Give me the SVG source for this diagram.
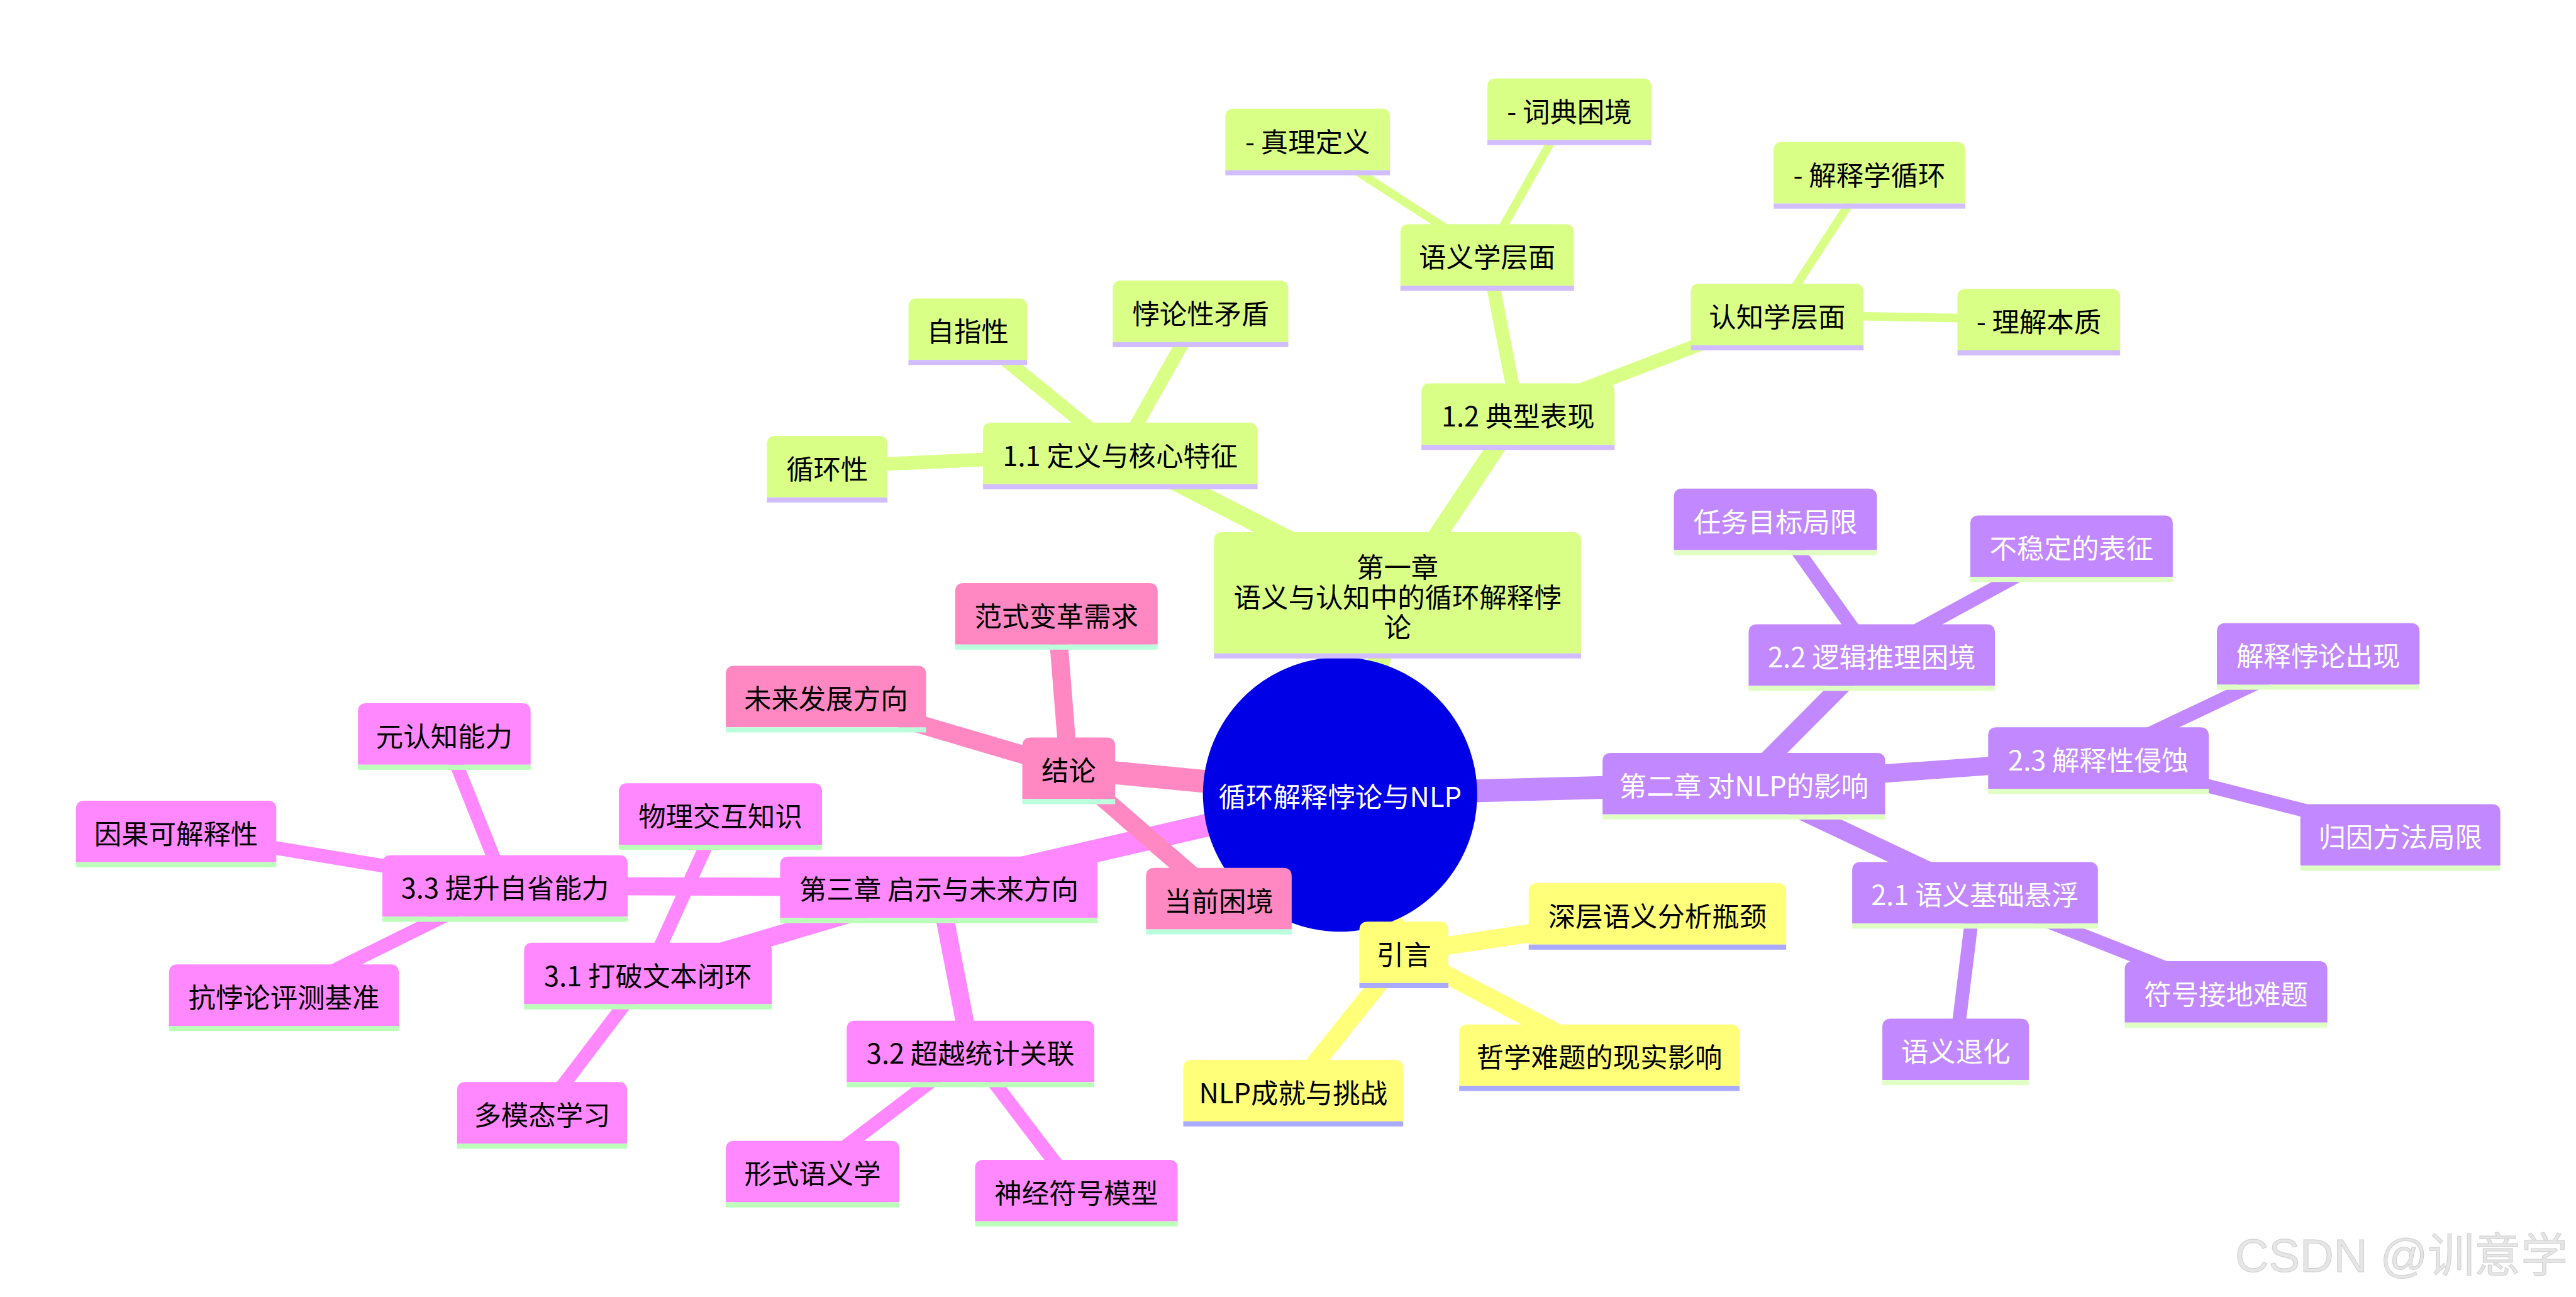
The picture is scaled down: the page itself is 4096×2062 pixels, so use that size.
<svg xmlns="http://www.w3.org/2000/svg" width="4096" height="2062" viewBox="0 0 4096 2062">
<style>
.t{font-family:"Noto Sans CJK SC","Noto Sans",sans-serif;font-size:48px;text-anchor:middle;fill:#000}
.rt{font-family:"Noto Sans CJK SC","Noto Sans",sans-serif;font-size:48px;text-anchor:middle;fill:#fff}
.e{fill:none;stroke-linecap:butt}
.d0{stroke-width:40}.d1{stroke-width:32}.d2{stroke-width:24}.d3{stroke-width:15}
.c1{stroke:#d9ff87}.c2{stroke:#c288ff}.c3{stroke:#ffff7a}.c4{stroke:#ff88c3}.c5{stroke:#ff88ff}
.s1 .bg{fill:#d9ff87}.s1 .ul{fill:#d1bdff}
.s2 .bg{fill:#c288ff}.s2 .ul{fill:#dfffc4}.s2 .t{fill:#fff}
.s3 .bg{fill:#ffff7a}.s3 .ul{fill:#aaaaff}
.s4 .bg{fill:#ff88c3}.s4 .ul{fill:#bbffdd}
.s5 .bg{fill:#ff88ff}.s5 .ul{fill:#bbffbb}
.wm{font-family:"Liberation Sans","Noto Sans CJK SC",sans-serif;font-size:82px;fill:#e6e6e6;stroke:#d0d0d0;stroke-width:1.2}
</style>
<rect width="4096" height="2062" fill="#fff"/>
<g transform="scale(0.904792)">
<g id="connectors">
<line class="e d0 c1" x1="2355" y1="1396" x2="2456" y2="1046"/>
<line class="e d0 c2" x1="2355" y1="1396" x2="3064.7" y2="1377"/>
<line class="e d0 c3" x1="2355" y1="1396" x2="2467.2" y2="1673.3"/>
<line class="e d0 c4" x1="2355" y1="1396" x2="1878.2" y2="1350"/>
<line class="e d0 c5" x1="2355" y1="1396" x2="1650" y2="1559"/>
<line class="e d1 c1" x1="2456" y1="1046" x2="1968.8" y2="796.7"/>
<line class="e d1 c1" x1="2456" y1="1046" x2="2667.8" y2="727.7"/>
<line class="e d1 c2" x1="3064.7" y1="1377" x2="3289.4" y2="1151"/>
<line class="e d1 c2" x1="3064.7" y1="1377" x2="3687.8" y2="1332"/>
<line class="e d1 c2" x1="3064.7" y1="1377" x2="3470.9" y2="1568.7"/>
<line class="e d1 c3" x1="2467.2" y1="1673.3" x2="2912.8" y2="1605.7"/>
<line class="e d1 c3" x1="2467.2" y1="1673.3" x2="2810.7" y2="1854"/>
<line class="e d1 c3" x1="2467.2" y1="1673.3" x2="2272.8" y2="1916.3"/>
<line class="e d1 c4" x1="1878.2" y1="1350" x2="1856.5" y2="1078.5"/>
<line class="e d1 c4" x1="1878.2" y1="1350" x2="1451.5" y2="1224"/>
<line class="e d1 c4" x1="1878.2" y1="1350" x2="2142" y2="1579"/>
<line class="e d1 c5" x1="1650" y1="1559" x2="887.5" y2="1556.7"/>
<line class="e d1 c5" x1="1650" y1="1559" x2="1138.8" y2="1710.5"/>
<line class="e d1 c5" x1="1650" y1="1559" x2="1705.5" y2="1847.4"/>
<line class="e d2 c1" x1="1968.8" y1="796.7" x2="1453.7" y2="820"/>
<line class="e d2 c1" x1="1968.8" y1="796.7" x2="1700.9" y2="578.3"/>
<line class="e d2 c1" x1="1968.8" y1="796.7" x2="2109.8" y2="547"/>
<line class="e d2 c1" x1="2667.8" y1="727.7" x2="2613.5" y2="448"/>
<line class="e d2 c1" x1="2667.8" y1="727.7" x2="3123.2" y2="552.7"/>
<line class="e d2 c2" x1="3289.4" y1="1151" x2="3120" y2="912.6"/>
<line class="e d2 c2" x1="3289.4" y1="1151" x2="3640.5" y2="959.6"/>
<line class="e d2 c2" x1="3687.8" y1="1332" x2="4074" y2="1149"/>
<line class="e d2 c2" x1="3687.8" y1="1332" x2="4218.3" y2="1467"/>
<line class="e d2 c2" x1="3470.9" y1="1568.7" x2="3912" y2="1742.8"/>
<line class="e d2 c2" x1="3470.9" y1="1568.7" x2="3436.9" y2="1843.8"/>
<line class="e d2 c5" x1="887.5" y1="1556.7" x2="780.8" y2="1289.7"/>
<line class="e d2 c5" x1="887.5" y1="1556.7" x2="309.5" y2="1461"/>
<line class="e d2 c5" x1="887.5" y1="1556.7" x2="499" y2="1748.7"/>
<line class="e d2 c5" x1="1138.8" y1="1710.5" x2="1266.1" y2="1430.4"/>
<line class="e d2 c5" x1="1138.8" y1="1710.5" x2="952.7" y2="1955.3"/>
<line class="e d2 c5" x1="1705.5" y1="1847.4" x2="1428" y2="2058.6"/>
<line class="e d2 c5" x1="1705.5" y1="1847.4" x2="1891.6" y2="2092"/>
<line class="e d3 c1" x1="2613.5" y1="448" x2="2298" y2="245"/>
<line class="e d3 c1" x1="2613.5" y1="448" x2="2758" y2="192"/>
<line class="e d3 c1" x1="3123.2" y1="552.7" x2="3285.3" y2="303.6"/>
<line class="e d3 c1" x1="3123.2" y1="552.7" x2="3583" y2="561.6"/>
</g>

<g id="root"><circle cx="2355" cy="1396" r="241" fill="#0000e6"/><text class="rt" x="2355" y="1418">循环解释悖论与NLP</text></g>

<g id="ch1" class="s1" transform="translate(2133.5,935)"><path class="bg" d="M0,213V15Q0,0 15,0H630Q645,0 645,15V213Z"/><rect class="ul" y="213" width="645" height="9"/><text class="t" x="322.5" y="80">第一章<tspan x="322.5" dy="53">语义与认知中的循环解释悖</tspan><tspan x="322.5" dy="52">论</tspan></text></g>
<g id="n11" class="s1" transform="translate(1727.5,742.7)"><path class="bg" d="M0,108V15Q0,0 15,0H467.5Q482.5,0 482.5,15V108Z"/><rect class="ul" y="108" width="482.5" height="9"/><text class="t" x="241.25" y="76">1.1 定义与核心特征</text></g>
<g id="xunhuan" class="s1" transform="translate(1347.8,766)"><path class="bg" d="M0,108V15Q0,0 15,0H196.8Q211.8,0 211.8,15V108Z"/><rect class="ul" y="108" width="211.8" height="9"/><text class="t" x="105.9" y="76">循环性</text></g>
<g id="zizhi" class="s1" transform="translate(1596.6,524.3)"><path class="bg" d="M0,108V15Q0,0 15,0H193.5Q208.5,0 208.5,15V108Z"/><rect class="ul" y="108" width="208.5" height="9"/><text class="t" x="104.25" y="76">自指性</text></g>
<g id="beilun" class="s1" transform="translate(1955.6,493)"><path class="bg" d="M0,108V15Q0,0 15,0H293.4Q308.4,0 308.4,15V108Z"/><rect class="ul" y="108" width="308.4" height="9"/><text class="t" x="154.2" y="76">悖论性矛盾</text></g>
<g id="n12" class="s1" transform="translate(2498,673.7)"><path class="bg" d="M0,108V15Q0,0 15,0H324.5Q339.5,0 339.5,15V108Z"/><rect class="ul" y="108" width="339.5" height="9"/><text class="t" x="169.75" y="76">1.2 典型表现</text></g>
<g id="yuyi" class="s1" transform="translate(2461,394)"><path class="bg" d="M0,108V15Q0,0 15,0H290Q305,0 305,15V108Z"/><rect class="ul" y="108" width="305" height="9"/><text class="t" x="152.5" y="76">语义学层面</text></g>
<g id="zhenli" class="s1" transform="translate(2153.4,191)"><path class="bg" d="M0,108V15Q0,0 15,0H274.3Q289.3,0 289.3,15V108Z"/><rect class="ul" y="108" width="289.3" height="9"/><text class="t" x="144.65" y="76">- 真理定义</text></g>
<g id="cidian" class="s1" transform="translate(2614,138)"><path class="bg" d="M0,108V15Q0,0 15,0H273Q288,0 288,15V108Z"/><rect class="ul" y="108" width="288" height="9"/><text class="t" x="144" y="76">- 词典困境</text></g>
<g id="renzhi" class="s1" transform="translate(2971.4,498.7)"><path class="bg" d="M0,108V15Q0,0 15,0H288.6Q303.6,0 303.6,15V108Z"/><rect class="ul" y="108" width="303.6" height="9"/><text class="t" x="151.8" y="76">认知学层面</text></g>
<g id="jieshixue" class="s1" transform="translate(3117,249.6)"><path class="bg" d="M0,108V15Q0,0 15,0H321.6Q336.6,0 336.6,15V108Z"/><rect class="ul" y="108" width="336.6" height="9"/><text class="t" x="168.3" y="76">- 解释学循环</text></g>
<g id="lijie" class="s1" transform="translate(3440,507.6)"><path class="bg" d="M0,108V15Q0,0 15,0H271Q286,0 286,15V108Z"/><rect class="ul" y="108" width="286" height="9"/><text class="t" x="143" y="76">- 理解本质</text></g>

<g id="ch2" class="s2" transform="translate(2816.3,1323)"><path class="bg" d="M0,108V15Q0,0 15,0H481.7Q496.7,0 496.7,15V108Z"/><rect class="ul" y="108" width="496.7" height="9"/><text class="t" x="248.35" y="76">第二章 对NLP的影响</text></g>
<g id="n22" class="s2" transform="translate(3073,1097)"><path class="bg" d="M0,108V15Q0,0 15,0H417.8Q432.8,0 432.8,15V108Z"/><rect class="ul" y="108" width="432.8" height="9"/><text class="t" x="216.4" y="76">2.2 逻辑推理困境</text></g>
<g id="renwu" class="s2" transform="translate(2941.6,858.6)"><path class="bg" d="M0,108V15Q0,0 15,0H341.8Q356.8,0 356.8,15V108Z"/><rect class="ul" y="108" width="356.8" height="9"/><text class="t" x="178.4" y="76">任务目标局限</text></g>
<g id="buwending" class="s2" transform="translate(3462.6,905.6)"><path class="bg" d="M0,108V15Q0,0 15,0H340.8Q355.8,0 355.8,15V108Z"/><rect class="ul" y="108" width="355.8" height="9"/><text class="t" x="177.9" y="76">不稳定的表征</text></g>
<g id="n23" class="s2" transform="translate(3494,1278)"><path class="bg" d="M0,108V15Q0,0 15,0H372.6Q387.6,0 387.6,15V108Z"/><rect class="ul" y="108" width="387.6" height="9"/><text class="t" x="193.8" y="76">2.3 解释性侵蚀</text></g>
<g id="jieshibeilun" class="s2" transform="translate(3896,1095)"><path class="bg" d="M0,108V15Q0,0 15,0H341Q356,0 356,15V108Z"/><rect class="ul" y="108" width="356" height="9"/><text class="t" x="178" y="76">解释悖论出现</text></g>
<g id="guiyin" class="s2" transform="translate(4042.6,1413)"><path class="bg" d="M0,108V15Q0,0 15,0H336.4Q351.4,0 351.4,15V108Z"/><rect class="ul" y="108" width="351.4" height="9"/><text class="t" x="175.7" y="76">归因方法局限</text></g>
<g id="n21" class="s2" transform="translate(3255,1514.7)"><path class="bg" d="M0,108V15Q0,0 15,0H416.8Q431.8,0 431.8,15V108Z"/><rect class="ul" y="108" width="431.8" height="9"/><text class="t" x="215.9" y="76">2.1 语义基础悬浮</text></g>
<g id="fuhao" class="s2" transform="translate(3734,1688.8)"><path class="bg" d="M0,108V15Q0,0 15,0H341Q356,0 356,15V108Z"/><rect class="ul" y="108" width="356" height="9"/><text class="t" x="178" y="76">符号接地难题</text></g>
<g id="tuihua" class="s2" transform="translate(3308,1789.8)"><path class="bg" d="M0,108V15Q0,0 15,0H242.8Q257.8,0 257.8,15V108Z"/><rect class="ul" y="108" width="257.8" height="9"/><text class="t" x="128.9" y="76">语义退化</text></g>

<g id="yinyan" class="s3" transform="translate(2389,1619.3)"><path class="bg" d="M0,108V15Q0,0 15,0H141.4Q156.4,0 156.4,15V108Z"/><rect class="ul" y="108" width="156.4" height="9"/><text class="t" x="78.2" y="76">引言</text></g>
<g id="shenceng" class="s3" transform="translate(2686.5,1551.7)"><path class="bg" d="M0,108V15Q0,0 15,0H437.5Q452.5,0 452.5,15V108Z"/><rect class="ul" y="108" width="452.5" height="9"/><text class="t" x="226.25" y="76">深层语义分析瓶颈</text></g>
<g id="zhexue" class="s3" transform="translate(2564.4,1800)"><path class="bg" d="M0,108V15Q0,0 15,0H477.6Q492.6,0 492.6,15V108Z"/><rect class="ul" y="108" width="492.6" height="9"/><text class="t" x="246.3" y="76">哲学难题的现实影响</text></g>
<g id="nlpcj" class="s3" transform="translate(2079.5,1862.3)"><path class="bg" d="M0,108V15Q0,0 15,0H371.5Q386.5,0 386.5,15V108Z"/><rect class="ul" y="108" width="386.5" height="9"/><text class="t" x="193.25" y="76">NLP成就与挑战</text></g>

<g id="jielun" class="s4" transform="translate(1796.6,1296)"><path class="bg" d="M0,108V15Q0,0 15,0H148.2Q163.2,0 163.2,15V108Z"/><rect class="ul" y="108" width="163.2" height="9"/><text class="t" x="81.6" y="76">结论</text></g>
<g id="fanshi" class="s4" transform="translate(1678.6,1024.5)"><path class="bg" d="M0,108V15Q0,0 15,0H340.8Q355.8,0 355.8,15V108Z"/><rect class="ul" y="108" width="355.8" height="9"/><text class="t" x="177.9" y="76">范式变革需求</text></g>
<g id="weilai" class="s4" transform="translate(1275.5,1170)"><path class="bg" d="M0,108V15Q0,0 15,0H337Q352,0 352,15V108Z"/><rect class="ul" y="108" width="352" height="9"/><text class="t" x="176" y="76">未来发展方向</text></g>
<g id="kunjing" class="s4" transform="translate(2014,1525)"><path class="bg" d="M0,108V15Q0,0 15,0H241Q256,0 256,15V108Z"/><rect class="ul" y="108" width="256" height="9"/><text class="t" x="128" y="76">当前困境</text></g>

<g id="ch3" class="s5" transform="translate(1371,1505)"><path class="bg" d="M0,108V15Q0,0 15,0H543Q558,0 558,15V108Z"/><rect class="ul" y="108" width="558" height="9"/><text class="t" x="279" y="76">第三章 启示与未来方向</text></g>
<g id="n33" class="s5" transform="translate(672,1502.7)"><path class="bg" d="M0,108V15Q0,0 15,0H416Q431,0 431,15V108Z"/><rect class="ul" y="108" width="431" height="9"/><text class="t" x="215.5" y="76">3.3 提升自省能力</text></g>
<g id="yuanrenzhi" class="s5" transform="translate(629,1235.7)"><path class="bg" d="M0,108V15Q0,0 15,0H288.5Q303.5,0 303.5,15V108Z"/><rect class="ul" y="108" width="303.5" height="9"/><text class="t" x="151.75" y="76">元认知能力</text></g>
<g id="yinguo" class="s5" transform="translate(133.5,1407)"><path class="bg" d="M0,108V15Q0,0 15,0H337Q352,0 352,15V108Z"/><rect class="ul" y="108" width="352" height="9"/><text class="t" x="176" y="76">因果可解释性</text></g>
<g id="kangbeilun" class="s5" transform="translate(297,1694.7)"><path class="bg" d="M0,108V15Q0,0 15,0H389Q404,0 404,15V108Z"/><rect class="ul" y="108" width="404" height="9"/><text class="t" x="202" y="76">抗悖论评测基准</text></g>
<g id="n31" class="s5" transform="translate(921,1656.5)"><path class="bg" d="M0,108V15Q0,0 15,0H420.5Q435.5,0 435.5,15V108Z"/><rect class="ul" y="108" width="435.5" height="9"/><text class="t" x="217.75" y="76">3.1 打破文本闭环</text></g>
<g id="wuli" class="s5" transform="translate(1087.6,1376.4)"><path class="bg" d="M0,108V15Q0,0 15,0H342Q357,0 357,15V108Z"/><rect class="ul" y="108" width="357" height="9"/><text class="t" x="178.5" y="76">物理交互知识</text></g>
<g id="duomotai" class="s5" transform="translate(803.3,1901.3)"><path class="bg" d="M0,108V15Q0,0 15,0H283.7Q298.7,0 298.7,15V108Z"/><rect class="ul" y="108" width="298.7" height="9"/><text class="t" x="149.35" y="76">多模态学习</text></g>
<g id="n32" class="s5" transform="translate(1488,1793.4)"><path class="bg" d="M0,108V15Q0,0 15,0H420Q435,0 435,15V108Z"/><rect class="ul" y="108" width="435" height="9"/><text class="t" x="217.5" y="76">3.2 超越统计关联</text></g>
<g id="xingshi" class="s5" transform="translate(1275.5,2004.6)"><path class="bg" d="M0,108V15Q0,0 15,0H290Q305,0 305,15V108Z"/><rect class="ul" y="108" width="305" height="9"/><text class="t" x="152.5" y="76">形式语义学</text></g>
<g id="shenjing" class="s5" transform="translate(1713.6,2038)"><path class="bg" d="M0,108V15Q0,0 15,0H341Q356,0 356,15V108Z"/><rect class="ul" y="108" width="356" height="9"/><text class="t" x="178" y="76">神经符号模型</text></g>

<g id="watermark"><text class="wm" x="3928" y="2235">CSDN @训意学</text></g>
</g>
</svg>
